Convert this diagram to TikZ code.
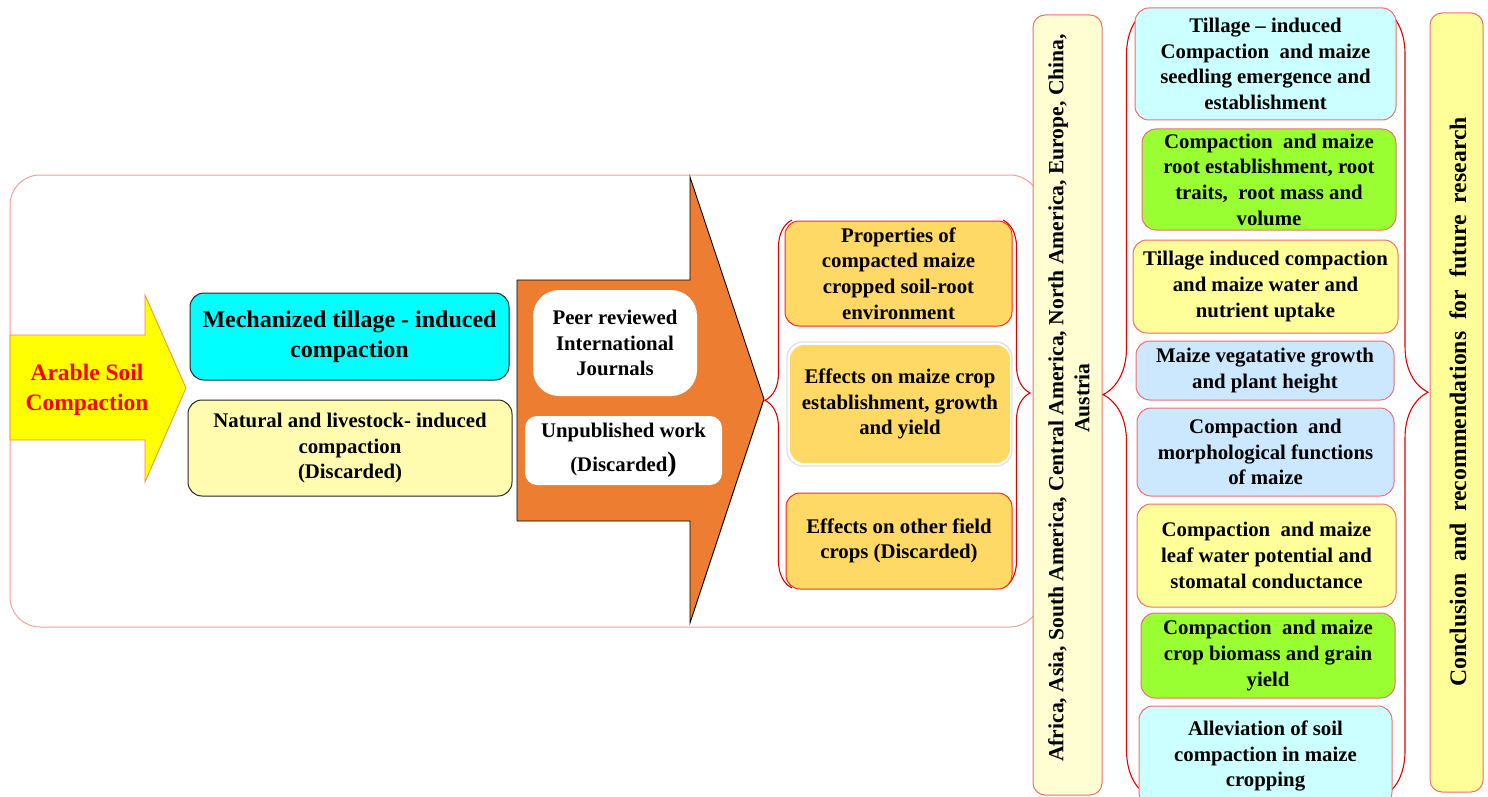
\documentclass[tikz,border=0pt]{standalone}
\usepackage{fontspec}
\setmainfont{Liberation Serif}
\usetikzlibrary{decorations.pathreplacing}
\definecolor{frame}{RGB}{240,160,160}
\definecolor{arrowY}{RGB}{255,255,0}
\definecolor{arrowYline}{RGB}{240,140,60}
\definecolor{cyanB}{RGB}{0,255,255}
\definecolor{paleY}{RGB}{255,251,175}
\definecolor{orangeA}{RGB}{237,125,49}
\definecolor{gold}{RGB}{255,217,102}
\definecolor{cream}{RGB}{255,253,210}
\definecolor{lcyan}{RGB}{204,255,255}
\definecolor{lime}{RGB}{153,255,51}
\definecolor{lyellow}{RGB}{255,255,153}
\definecolor{lblue}{RGB}{204,232,255}
\definecolor{pinkline}{RGB}{240,110,110}
\definecolor{braceR}{RGB}{225,0,0}
\begin{document}
\begin{tikzpicture}[x=1pt,y=-1pt,
  txt/.style={font=\bfseries\fontsize{20.8}{25.7}\selectfont, align=center, text=black},
  blackbox/.style={txt, draw=black!85, line width=1pt, rounded corners=14pt, inner sep=0pt},
  whitebox/.style={txt, fill=white, draw=none, inner sep=0pt},
  goldbox/.style={txt, fill=gold, draw=red!85, line width=1pt, rounded corners=14pt, inner sep=0pt},
  colbox/.style={txt, draw=pinkline, line width=1pt, rounded corners=14pt, inner sep=0pt},
  tallbox/.style={draw=pinkline, line width=1pt, rounded corners=12pt, inner sep=0pt},
  bracepath/.style={draw=braceR, line width=1.1pt, decorate}
]
\path[use as bounding box] (0,0) rectangle (1488,797);

% big frame
\draw[frame, line width=1pt, rounded corners=30pt] (10,175) rectangle (1040,627);

% yellow arrow
\draw[fill=arrowY, draw=arrowYline, line width=0.8pt]
  (10,335) -- (145,335) -- (145,295) -- (186,388) -- (145,482) -- (145,440) -- (10,440) -- cycle;
\node[font=\bfseries\fontsize{23.5}{30}\selectfont, text=red, align=center] (arable) at (87,390) {Arable Soil\\Compaction};

% left boxes
\node[blackbox, fill=cyanB, minimum width=319pt, minimum height=87pt, font=\bfseries\fontsize{24}{30}\selectfont] (mech) at (349.5,336.5) {Mechanized tillage - induced\\compaction};
\node[blackbox, fill=paleY, minimum width=324pt, minimum height=96pt] (natural) at (350,448) {Natural and livestock- induced\\compaction\\(Discarded)};

% orange arrow
\draw[fill=orangeA, draw=black, line width=0.9pt]
  (517,280) -- (690,280) -- (690,177) -- (764,399) -- (690,623) -- (690,521) -- (517,521) -- cycle;
\node[whitebox, rounded corners=26pt, minimum width=164pt, minimum height=106pt] (peer) at (615,343) {Peer reviewed\\International\\Journals};
\node[whitebox, rounded corners=12pt, minimum width=197pt, minimum height=69pt, font=\bfseries\fontsize{20.8}{34}\selectfont] (unpub) at (623.5,450.5) {Unpublished work\\(Discarded{\fontsize{28}{28}\selectfont )}};

% middle braces
\draw[bracepath, decoration={brace, amplitude=27pt, aspect=0.51}] (792,588) -- (792,220);
\draw[bracepath, decoration={brace, amplitude=27pt, aspect=0.47}] (1003,220) -- (1003,588);

% gold boxes
\node[goldbox, minimum width=227pt, minimum height=105pt] (prop) at (898.5,273.5) {Properties of\\compacted maize\\cropped soil-root\\environment};
\draw[gray!25, line width=1.2pt, rounded corners=16pt] (787,342) rectangle (1012,466);
\node[goldbox, draw=none, minimum width=220pt, minimum height=118pt] (effm) at (900,404) {Effects on maize crop\\establishment, growth\\and yield};
\node[goldbox, minimum width=226pt, minimum height=96pt] (effo) at (899,541) {Effects on other field\\crops (Discarded)};

% regions box
\node[tallbox, fill=cream, minimum width=69pt, minimum height=780pt] (regions) at (1067.5,405) {};
\node[txt, rotate=90, font=\bfseries\fontsize{21.6}{26}\selectfont] (regtext) at (1069,398) {Africa, Asia, South America, Central America, North America, Europe, China,\\Austria};

% right column braces
\draw[bracepath, decoration={brace, amplitude=47pt, aspect=0.51}] (1150,797) -- (1150,8);
\draw[bracepath, decoration={brace, amplitude=46pt, aspect=0.487}] (1382,8) -- (1382,797);

% right column boxes
\node[colbox, fill=lcyan, minimum width=261pt, minimum height=112pt] (r1) at (1265.5,64) {Tillage -- induced\\Compaction\ \ and maize\\seedling emergence and\\establishment};
\node[colbox, fill=lime, minimum width=254pt, minimum height=101pt] (r2) at (1269,179.5) {Compaction\ \ and maize\\root establishment, root\\traits,\ \ root mass and\\volume};
\node[colbox, fill=lyellow, minimum width=265pt, minimum height=93pt] (r3) at (1265.5,286.5) {Tillage induced compaction\\and maize water and\\nutrient uptake};
\node[colbox, fill=lblue, minimum width=258pt, minimum height=59pt] (r4) at (1265,370.5) {Maize vegatative growth\\and plant height};
\node[colbox, fill=lblue, minimum width=257pt, minimum height=88pt] (r5) at (1265.5,452) {Compaction\ \ and\\morphological functions\\of maize};
\node[colbox, fill=lyellow, minimum width=259pt, minimum height=103pt] (r6) at (1266.5,555.5) {Compaction\ \ and maize\\leaf water potential and\\stomatal conductance};
\node[colbox, fill=lime, minimum width=254pt, minimum height=85pt] (r7) at (1268,655.5) {Compaction\ \ and maize\\crop biomass and grain\\yield};
\node[colbox, fill=lcyan, minimum width=253pt, minimum height=100pt] (r8) at (1265.5,756) {Alleviation of soil\\compaction in maize\\cropping};

% conclusion box
\node[tallbox, fill=lyellow, minimum width=53pt, minimum height=779pt] (concl) at (1456.5,402.5) {};
\node[txt, rotate=90, font=\bfseries\fontsize{23.7}{28}\selectfont] (concltext) at (1458,402) {Conclusion\ \ and\ \ recommendations\ \ for\ \ future\ \ research};
\end{tikzpicture}
\end{document}
